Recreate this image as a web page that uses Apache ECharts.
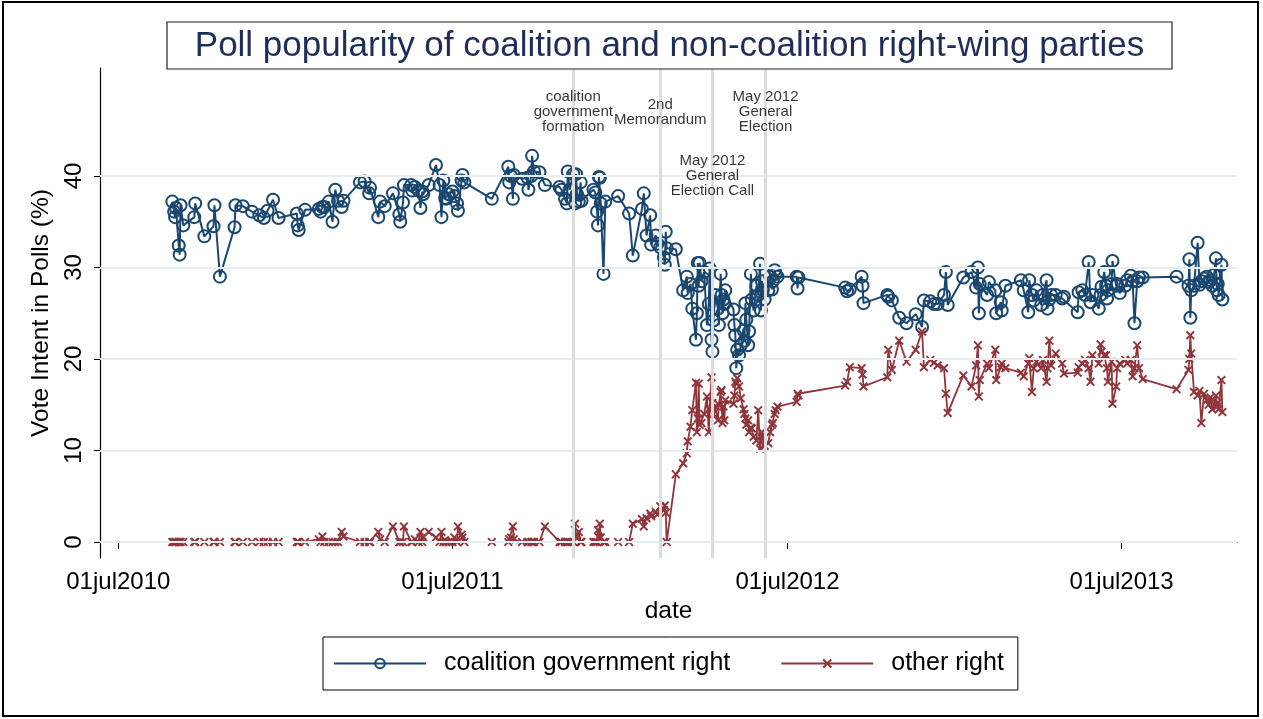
<!DOCTYPE html>
<html>
<head>
<meta charset="utf-8">
<script src="https://cdn.jsdelivr.net/npm/echarts@6/dist/echarts.min.js"></script>
<style>
html, body { margin: 0; padding: 0; background: #fff; }
#main { width: 1263px; height: 719px; }
</style>
</head>
<body>
<div id="main"></div>
<script>
// poll dates, one entry per poll; both series share them
const pollDates = [
  '2010-08-29','2010-08-31','2010-09-01','2010-09-02','2010-09-05','2010-09-06','2010-09-07','2010-09-10',
  '2010-09-22','2010-09-23','2010-10-03','2010-10-13','2010-10-14','2010-10-20','2010-11-05','2010-11-06',
  '2010-11-14','2010-11-24','2010-12-02','2010-12-07','2010-12-11','2010-12-17','2010-12-23',
  '2011-01-12','2011-01-13','2011-01-14','2011-01-21','2011-02-05','2011-02-07','2011-02-09','2011-02-11',
  '2011-02-16','2011-02-20','2011-02-23','2011-02-26','2011-03-02','2011-03-04','2011-03-22','2011-03-27',
  '2011-04-01','2011-04-02','2011-04-11','2011-04-13','2011-04-18','2011-04-27','2011-05-04','2011-05-05',
  '2011-05-08','2011-05-09','2011-05-17','2011-05-18','2011-05-21','2011-05-25','2011-05-27','2011-05-29',
  '2011-05-30','2011-06-05','2011-06-13','2011-06-17','2011-06-19','2011-06-21','2011-06-23','2011-06-24',
  '2011-06-27','2011-07-01','2011-07-03','2011-07-06','2011-07-07','2011-07-11','2011-07-12','2011-07-14',
  '2011-08-13','2011-08-31','2011-09-01','2011-09-03','2011-09-05','2011-09-06','2011-09-15','2011-09-21',
  '2011-09-22','2011-09-25','2011-09-26','2011-09-28','2011-10-04','2011-10-10','2011-10-26','2011-10-28',
  '2011-11-01','2011-11-03','2011-11-04','2011-11-06','2011-11-10','2011-11-12','2011-11-13','2011-11-14',
  '2011-11-16','2011-11-18','2011-11-19','2011-12-02','2011-12-04','2011-12-06','2011-12-07','2011-12-08',
  '2011-12-09','2011-12-10','2011-12-13','2011-12-15','2011-12-29',
  '2012-01-10','2012-01-14','2012-01-24','2012-01-26','2012-01-29','2012-02-02','2012-02-03','2012-02-08',
  '2012-02-10','2012-02-13','2012-02-17','2012-02-18','2012-02-19','2012-02-20','2012-03-01','2012-03-09',
  '2012-03-13','2012-03-14','2012-03-17','2012-03-19','2012-03-23','2012-03-24','2012-03-25','2012-03-26',
  '2012-03-27','2012-03-29','2012-04-01','2012-04-04','2012-04-06','2012-04-07','2012-04-09','2012-04-10',
  '2012-04-11','2012-04-13','2012-04-16','2012-04-17','2012-04-19','2012-04-20','2012-04-21','2012-04-22',
  '2012-04-23','2012-04-24','2012-05-03','2012-05-04','2012-05-05','2012-05-06','2012-05-07','2012-05-09',
  '2012-05-11','2012-05-14','2012-05-15','2012-05-16','2012-05-17','2012-05-19','2012-05-20','2012-05-22',
  '2012-05-23','2012-05-25','2012-05-28','2012-05-30','2012-06-01','2012-06-02','2012-06-03','2012-06-04',
  '2012-06-06','2012-06-10','2012-06-12','2012-06-14','2012-06-15','2012-06-17','2012-06-18','2012-06-20',
  '2012-07-11','2012-07-12','2012-07-13','2012-09-02','2012-09-04','2012-09-07','2012-09-20','2012-09-21',
  '2012-09-22','2012-10-18','2012-10-19','2012-10-23','2012-10-31','2012-11-08','2012-11-18','2012-11-25',
  '2012-11-27','2012-12-04','2012-12-08','2012-12-12','2012-12-19','2012-12-21','2012-12-23',
  '2013-01-09','2013-01-18','2013-01-23','2013-01-25','2013-01-26','2013-01-27','2013-02-04','2013-02-06',
  '2013-02-13','2013-02-14','2013-02-19','2013-02-20','2013-02-24','2013-03-13','2013-03-16','2013-03-21',
  '2013-03-22','2013-03-25','2013-03-27','2013-03-30','2013-04-04','2013-04-06','2013-04-10','2013-04-11',
  '2013-04-13','2013-04-15','2013-04-20','2013-04-27','2013-04-29','2013-05-14','2013-05-15','2013-05-19',
  '2013-05-22','2013-05-26','2013-05-28','2013-05-30','2013-06-06','2013-06-08','2013-06-09','2013-06-12',
  '2013-06-14','2013-06-15','2013-06-16','2013-06-20','2013-06-21','2013-06-25','2013-06-26','2013-06-29',
  '2013-07-05','2013-07-07','2013-07-11','2013-07-13','2013-07-15','2013-07-18','2013-07-20','2013-07-24',
  '2013-08-30','2013-09-12','2013-09-13','2013-09-14','2013-09-15','2013-09-18','2013-09-22','2013-09-24',
  '2013-09-26','2013-09-29','2013-10-02','2013-10-04','2013-10-06','2013-10-08','2013-10-10','2013-10-12',
  '2013-10-13','2013-10-14','2013-10-15','2013-10-18','2013-10-19'
];

const coalitionRight = [
  37.2,36.1,35.5,36.5,32.4,31.4,36.8,34.6,
  35.5,37.0,33.4,34.5,36.8,29.0,34.4,36.8,
  36.7,36.1,35.7,35.4,36.2,37.4,35.4,
  35.9,34.6,34.1,36.3,36.4,36.1,36.6,36.6,
  37.2,35.0,38.5,37.3,36.6,37.3,39.3,39.4,
  38.1,38.7,35.5,37.2,36.7,38.1,35.8,35.0,
  37.1,39.0,39.0,38.4,38.8,38.4,36.5,38.3,
  38.0,39.0,41.2,39.0,35.5,39.5,37.6,37.5,
  38.0,38.3,37.8,37.0,36.2,39.5,40.1,39.3,
  37.5,41.0,39.3,40.0,37.5,40.1,39.7,39.8,
  38.5,40.0,42.2,40.5,40.4,39.0,38.8,38.5,
  37.5,37.0,40.5,38.5,40.2,37.0,40.2,38.0,
  37.2,39.3,37.3,38.5,38.2,36.1,34.6,39.9,
  39.8,37.0,29.3,37.2,37.8,
  35.9,31.3,36.4,38.1,33.5,35.7,32.5,33.5,
  32.6,32.2,31.1,30.3,33.9,32.1,32.0,27.5,
  29.0,27.2,28.2,25.5,22.1,25.0,30.5,28.0,
  30.5,28.5,29.5,23.7,26.0,29.9,22.1,20.8,
  24.2,27.0,25.5,23.7,29.3,27.0,25.0,26.5,
  26.0,27.5,25.4,23.7,22.6,19.0,21.0,20.4,
  21.5,23.1,22.0,26.1,24.3,21.5,23.0,29.3,
  26.5,25.3,28.0,27.0,30.4,25.3,28.5,27.5,
  26.5,27.5,29.0,27.6,28.5,29.7,29.3,29.0,
  29.0,27.7,28.9,27.8,27.4,27.6,29.0,28.0,
  26.1,27.0,26.8,26.4,24.5,23.9,24.9,23.5,
  26.4,26.3,26.0,26.0,27.0,29.5,25.9,
  28.9,29.5,27.8,30.0,25.0,28.2,27.0,28.4,
  27.5,25.0,26.2,25.3,28.0,28.6,27.5,25.1,
  28.6,27.0,26.4,27.5,25.9,27.0,28.6,25.5,
  26.5,27.0,27.0,26.6,26.8,25.1,27.3,27.5,
  27.0,30.6,26.2,27.0,25.5,27.0,27.9,29.5,
  28.0,26.6,27.5,28.2,30.7,28.0,28.2,27.2,
  28.0,28.6,29.1,28.5,23.9,28.5,28.9,28.9,
  29.0,28.0,30.9,24.5,27.5,28.0,32.7,28.1,
  28.5,28.8,29.0,28.4,28.6,28.0,29.2,31.0,
  27.5,28.2,27.0,30.3,26.5
];

const otherRight = [
  0,0,0,0,0,0,0,0,
  0,0,0,0,0,0,0,0,
  0,0,0,0,0,0,0,
  0,0,0,0,0.3,0,0.6,0,
  0,0,0,0,1.1,0.6,0,0,
  0,0,1.1,0.3,0,1.7,0,0,
  0,1.7,0,0,0.3,0,1.1,0,
  0.5,1.1,0.5,0,1.1,0,0.2,0,
  0,0,0.5,0,1.7,0.8,0.5,0,
  0,0,0.3,0.5,1.7,0.3,0,0,
  0,0,0,0,0,1.7,0,0,
  0,0,0,0,0,2.0,0.6,0.8,
  1.1,0,0,0,0,0,1.3,0.5,
  2.0,0.5,0,0,0,
  0,2.0,2.5,1.7,2.6,3.1,2.8,3.3,
  3.0,3.9,3.5,4.0,3.2,0,7.4,8.6,
  9.7,11.0,12.6,14.4,17.4,12.0,13.5,17.3,
  12.8,13.0,14.0,15.9,12.0,14.5,18.0,15.2,
  14.0,14.8,13.3,15.0,16.4,16.6,13.0,14.8,
  13.3,15.5,15.1,16.0,17.5,17.3,17.9,17.0,
  15.7,14.5,14.0,13.5,12.8,13.3,12.0,12.5,
  12.4,11.5,11.1,14.4,10.2,11.0,12.0,11.5,
  10.5,10.8,12.0,12.8,13.0,14.0,14.4,14.8,
  15.3,16.2,16.0,17.1,17.5,19.1,19.0,18.3,
  17.0,18.0,21.0,18.8,22.0,19.7,21.0,23.0,
  19.1,19.9,19.6,19.3,19.0,16.2,14.1,
  18.2,17.0,19.3,21.5,15.9,17.7,19.5,19.0,
  21.0,17.7,19.1,19.5,19.0,18.5,18.1,19.5,
  20.1,16.4,19.0,19.7,19.0,19.9,17.5,19.0,
  22.0,19.3,20.6,19.5,18.4,18.5,19.1,19.5,
  19.9,19.0,17.5,20.4,19.5,21.6,20.8,20.4,
  20.4,19.0,17.5,19.7,15.1,17.0,19.0,19.5,
  19.9,19.5,19.9,18.1,19.0,21.5,19.0,17.8,
  16.7,18.8,20.0,22.6,20.6,16.4,16.0,16.5,
  13.0,16.2,15.5,15.0,15.8,14.5,15.0,16.0,
  14.8,15.2,14.5,17.7,14.2
];

const xTickDates = ['2010-07-01', '2011-07-01', '2012-07-01', '2013-07-01'];
const xTickLabels = ['01jul2010', '01jul2011', '01jul2012', '01jul2013'];
const yTicks = [0, 10, 20, 30, 40];

const eventDates = ['2011-11-10', '2012-02-13', '2012-04-10', '2012-06-07'];
const eventNames = [
  'coalition\ngovernment\nformation',
  '2nd\nMemorandum',
  'May 2012\nGeneral\nElection Call',
  'May 2012\nGeneral\nElection'
];

const FONT = "'Liberation Sans', Arial, Helvetica, sans-serif";
const NAVY = '#1a476f';
const MAROON = '#90353b';

const ts = s => Date.parse(s);
const xTicks = xTickDates.map(ts);

const coalitionData = pollDates.map((d, i) => [ts(d), coalitionRight[i]]);
const otherData = pollDates.map((d, i) => [ts(d), otherRight[i]]);

// where the event captions sit, in axis units
const eventLabelLevel = [47, 47, 40, 47];
const eventData = eventDates.map((d, i) => ({ value: [ts(d), eventLabelLevel[i]], name: eventNames[i] }));

const crossPath = 'path://M0,1.5L1.5,0L5,3.5L8.5,0L10,1.5L6.5,5L10,8.5L8.5,10L5,6.5L1.5,10L0,8.5L3.5,5Z';

const chart = echarts.init(document.getElementById('main'));

chart.setOption({
  animation: false,
  backgroundColor: '#fff',
  textStyle: { fontFamily: FONT },
  graphic: [
    { type: 'rect', shape: { x: 3, y: 2, width: 1255, height: 714 },
      style: { fill: null, stroke: '#000', lineWidth: 2 }, silent: true },
    { type: 'rect', shape: { x: 167, y: 22, width: 1005, height: 47 },
      style: { fill: '#fff', stroke: '#222', lineWidth: 1.2 }, silent: true, z: 10 },
    { type: 'text', x: 669.5, y: 46, z: 11, silent: true,
      style: { text: 'Poll popularity of coalition and non-coalition right-wing parties',
        font: '35px ' + FONT, fill: '#1e2d5a', align: 'center', verticalAlign: 'middle' } }
  ],
  grid: { left: 100, right: 26, top: 68, bottom: 161, containLabel: false },
  legend: {
    left: 323, top: 637,
    padding: [14, 14, 14, 10],
    borderColor: '#000', borderWidth: 1,
    itemWidth: 92, itemHeight: 12, itemGap: 50,
    data: ['coalition government right', 'other right'],
    textStyle: { fontSize: 25, color: '#000', fontFamily: FONT, padding: [0, 0, 0, 13] }
  },
  xAxis: {
    type: 'value',
    min: ts('2010-06-11'),
    max: ts('2013-11-04'),
    name: 'date',
    nameLocation: 'middle',
    nameGap: 41,
    nameTextStyle: { fontSize: 24.5, color: '#000', fontFamily: FONT },
    axisLine: { lineStyle: { color: '#000', width: 1.2 } },
    axisTick: { show: true, length: 7, customValues: xTicks, lineStyle: { color: '#000' } },
    axisLabel: {
      customValues: xTicks, margin: 12, fontSize: 24, color: '#000', fontFamily: FONT,
      formatter: v => xTickLabels[xTicks.indexOf(v)] || ''
    },
    splitLine: { show: false }
  },
  yAxis: {
    type: 'value',
    min: -1.75,
    max: 51.8,
    name: 'Vote Intent in Polls (%)',
    nameLocation: 'middle',
    nameGap: 44,
    nameTextStyle: { fontSize: 24.5, color: '#000', fontFamily: FONT },
    axisLine: { show: true, lineStyle: { color: '#000', width: 1.2 } },
    axisTick: { show: true, length: 6, customValues: yTicks, lineStyle: { color: '#000' } },
    axisLabel: { customValues: yTicks, rotate: 90, margin: 14, fontSize: 24, color: '#000', fontFamily: FONT },
    splitLine: { show: false }
  },
  series: [
    {
      // gridlines and event markers, behind everything
      type: 'scatter',
      z: 1,
      silent: true,
      symbolSize: 0,
      data: [],
      markLine: {
        silent: true,
        symbol: 'none',
        label: { show: false },
        data: yTicks.map(v => ({ yAxis: v, lineStyle: { color: '#e6edf0', width: 2, type: 'solid' } }))
          .concat(eventDates.map(d => ({ xAxis: ts(d), lineStyle: { color: '#dcdcdc', width: 3, type: 'solid' } })))
      }
    },
    {
      name: 'coalition government right',
      type: 'line',
      z: 3,
      data: coalitionData,
      symbol: 'circle',
      symbolSize: 12,
      showSymbol: true,
      showAllSymbol: true,
      lineStyle: { color: NAVY, width: 2 },
      itemStyle: { color: 'rgba(255,255,255,0)', borderColor: NAVY, borderWidth: 2 },
      emphasis: { disabled: true }
    },
    {
      name: 'other right',
      type: 'line',
      z: 4,
      data: otherData,
      symbol: crossPath,
      symbolSize: 9,
      showSymbol: true,
      showAllSymbol: true,
      lineStyle: { color: MAROON, width: 1.8 },
      itemStyle: { color: MAROON },
      emphasis: { disabled: true }
    },
    {
      // event captions
      type: 'scatter',
      z: 5,
      silent: true,
      symbolSize: 0,
      itemStyle: { color: '#000' },
      data: eventData,
      label: {
        show: true, position: 'inside', formatter: '{b}',
        fontSize: 15, lineHeight: 15, color: '#000', align: 'center', fontFamily: FONT,
        textBorderWidth: 0, textBorderColor: 'transparent'
      }
    }
  ]
});
</script>
</body>
</html>
